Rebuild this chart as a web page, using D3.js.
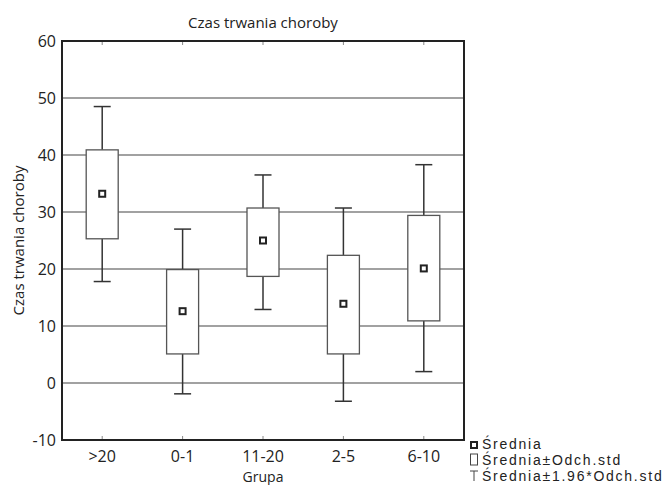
<!DOCTYPE html>
<html><head><meta charset="utf-8">
<script src="https://cdn.jsdelivr.net/npm/d3@7/dist/d3.min.js"></script>
<style>body{margin:0;background:#fff}svg{display:block}text{font-family:"Open Sans",sans-serif;fill:#222}</style>
</head><body><svg id="c" width="665" height="485"></svg>
<script>
const categories = [">20", "0-1", "11-20", "2-5", "6-10"];
const means      = [33.2, 12.6, 25.0, 13.9, 20.1];
const boxLow     = [25.3, 5.1, 18.7, 5.1, 10.9];
const boxHigh    = [40.9, 19.9, 30.7, 22.4, 29.4];
const whiskLow   = [17.8, -1.9, 12.9, -3.2, 2.0];
const whiskHigh  = [48.5, 27.0, 36.5, 30.7, 38.3];
const yTicks     = [-10, 0, 10, 20, 30, 40, 50, 60];
const legendLabels = ["Średnia", "Średnia±Odch.std", "Średnia±1.96*Odch.std"];

const svg = d3.select("#c");
const L = 62, R = 464, T = 41, B = 440;
const x = d3.scaleBand().domain(categories).range([L, R]);
const y = d3.scaleLinear().domain([-10, 60]).range([B, T]);

// grid
svg.append("g").selectAll("line").data(yTicks.filter(v => v > -10 && v < 60)).join("line")
  .attr("x1", L).attr("x2", R).attr("y1", d => y(d)).attr("y2", d => y(d))
  .attr("stroke", "#444").attr("stroke-width", 1.2);

const data = categories.map((c, i) => ({c, m: means[i], bl: boxLow[i], bh: boxHigh[i], wl: whiskLow[i], wh: whiskHigh[i]}));
const bw = 32, cw = 17;
const g = svg.append("g");
data.forEach(d => {
  const cx = x(d.c) + x.bandwidth() / 2;
  g.append("line").attr("x1", cx).attr("x2", cx).attr("y1", y(d.wh)).attr("y2", y(d.bh)).attr("stroke", "#333").attr("stroke-width", 1.5);
  g.append("line").attr("x1", cx).attr("x2", cx).attr("y1", y(d.bl)).attr("y2", y(d.wl)).attr("stroke", "#333").attr("stroke-width", 1.5);
  g.append("line").attr("x1", cx - cw/2).attr("x2", cx + cw/2).attr("y1", y(d.wh)).attr("y2", y(d.wh)).attr("stroke", "#333").attr("stroke-width", 1.5);
  g.append("line").attr("x1", cx - cw/2).attr("x2", cx + cw/2).attr("y1", y(d.wl)).attr("y2", y(d.wl)).attr("stroke", "#333").attr("stroke-width", 1.5);
  g.append("rect").attr("x", cx - bw/2).attr("y", y(d.bh)).attr("width", bw).attr("height", y(d.bl) - y(d.bh))
    .attr("fill", "#fff").attr("stroke", "#555").attr("stroke-width", 1.3);
  g.append("rect").attr("x", cx - 3).attr("y", y(d.m) - 3).attr("width", 6).attr("height", 6)
    .attr("fill", "#fff").attr("stroke", "#222").attr("stroke-width", 2);
});

// frame
svg.append("rect").attr("x", L).attr("y", T).attr("width", R - L).attr("height", B - T)
  .attr("fill", "none").attr("stroke", "#222").attr("stroke-width", 2);

// inner ticks top/bottom
categories.forEach(c => {
  const cx = x(c) + x.bandwidth() / 2;
  svg.append("line").attr("x1", cx).attr("x2", cx).attr("y1", B - 1).attr("y2", B - 4).attr("stroke", "#888");
  svg.append("line").attr("x1", cx).attr("x2", cx).attr("y1", T + 1).attr("y2", T + 4).attr("stroke", "#888");
});

// y labels
svg.append("g").selectAll("text").data(yTicks).join("text")
  .attr("x", L - 6).attr("y", d => y(d)).attr("dy", "0.35em").attr("text-anchor", "end")
  .attr("font-size", 16).text(d => d);

// x labels
svg.append("g").selectAll("text").data(categories).join("text")
  .attr("x", d => x(d) + x.bandwidth() / 2).attr("y", 462).attr("text-anchor", "middle")
  .attr("font-size", 16).text(d => d);

svg.append("text").attr("x", (L + R) / 2).attr("y", 482).attr("text-anchor", "middle").attr("font-size", 14).text("Grupa");
svg.append("text").attr("x", (L + R) / 2).attr("y", 28).attr("text-anchor", "middle").attr("font-size", 15).text("Czas trwania choroby");
svg.append("text").attr("transform", `translate(24,${(T + B) / 2}) rotate(-90)`).attr("text-anchor", "middle").attr("font-size", 15).text("Czas trwania choroby");

// legend
const lg = svg.append("g");
const ly = [449, 465, 481];
lg.append("rect").attr("x", 471).attr("y", ly[0] - 7).attr("width", 6).attr("height", 6).attr("fill", "#fff").attr("stroke", "#222").attr("stroke-width", 2);
lg.append("rect").attr("x", 470.5).attr("y", ly[1] - 11).attr("width", 7).attr("height", 11).attr("fill", "#fff").attr("stroke", "#444").attr("stroke-width", 1);
lg.append("line").attr("x1", 470).attr("x2", 478).attr("y1", ly[2] - 10).attr("y2", ly[2] - 10).attr("stroke", "#444");
lg.append("line").attr("x1", 474).attr("x2", 474).attr("y1", ly[2] - 10).attr("y2", ly[2]).attr("stroke", "#444");
lg.selectAll("text").data(legendLabels).join("text")
  .attr("x", 482).attr("y", (d, i) => ly[i])
  .style("font-family", "'Liberation Sans', Arial, sans-serif")
  .attr("font-size", 14).attr("letter-spacing", 1.75).text(d => d);
</script></body></html>
